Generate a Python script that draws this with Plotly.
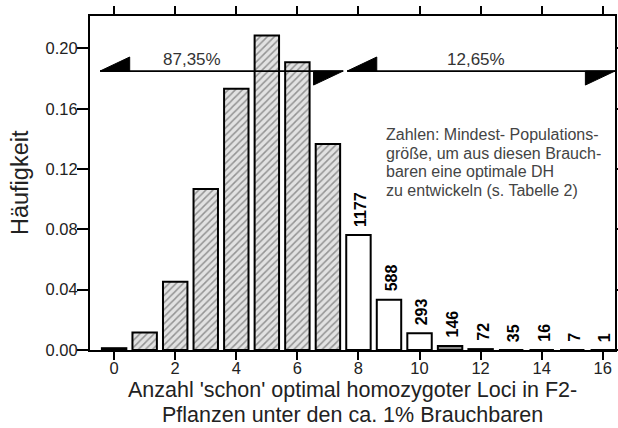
import plotly.graph_objects as go

# Frequency of F2 plants by number of loci already optimally homozygous
loci = list(range(17))
haeufigkeit = [0.0012, 0.0116, 0.0452, 0.1068, 0.1733, 0.2086, 0.1908, 0.1366,
               0.0762, 0.0333, 0.0111, 0.0027, 0.0006, 0.0, 0.0, 0.0, 0.0]

# Minimum population sizes for the classes 8..16
pop_loci = [8, 9, 10, 11, 12, 13, 14, 15, 16]
pop_sizes = [1177, 588, 293, 146, 72, 35, 16, 7, 1]

# Share of the two groups and the span of their arrows (in loci units)
share_labels = ["87,35%", "12,65%"]
share_spans = [(-0.46, 7.5), (7.63, 16.4)]

x_ticks = [0, 2, 4, 6, 8, 10, 12, 14, 16]
y_ticks = [0.00, 0.04, 0.08, 0.12, 0.16, 0.20]

x_title_lines = ["Anzahl 'schon' optimal homozygoter Loci in F2-",
                 "Pflanzen unter den ca. 1% Brauchbaren"]
y_title = "Häufigkeit"

note_lines = ["Zahlen: Mindest- Populations-",
              "größe, um aus diesen Brauch-",
              "baren eine optimale DH",
              "zu entwickeln (s. Tabelle 2)"]

FONT = "Arial, Liberation Sans, sans-serif"
X_RANGE = [-0.79, 16.4]
Y_RANGE = [0, 0.2215]
ARROW_Y = 0.185
HEAD_LEN = 0.97
HEAD_H = 0.0093


def bar_style(k):
    if 1 <= k <= 7:
        return "#e2e2e2", "/"
    if 8 <= k <= 10:
        return "white", ""
    if k == 11:
        return "#8a8a8a", ""
    return "black", ""


colors = [bar_style(k)[0] for k in loci]
patterns = [bar_style(k)[1] for k in loci]

fig = go.Figure()
fig.add_trace(go.Bar(
    x=loci, y=haeufigkeit, width=0.8,
    marker=dict(color=colors,
                line=dict(color="black", width=2),
                pattern=dict(shape=patterns, fgcolor="#8e8e8e", size=5,
                             solidity=0.3, fillmode="overlay")),
    hoverinfo="x+y", showlegend=False,
))

annotations = []
# population size labels above the bars
for k, n in zip(pop_loci, pop_sizes):
    annotations.append(dict(
        x=k, y=haeufigkeit[k], xref="x", yref="y", text=str(n),
        textangle=-90, showarrow=False, xanchor="center", yanchor="bottom",
        yshift=6, xshift=2,
        font=dict(family=FONT, size=16, color="black", weight="bold")))

# arrows marking both groups
shapes = []
share_label_x = [2.55, 11.85]
for (x0, x1), lab, lx in zip(share_spans, share_labels, share_label_x):
    shapes.append(dict(type="line", xref="x", yref="y", x0=x0, x1=x1,
                       y0=ARROW_Y, y1=ARROW_Y,
                       line=dict(color="black", width=1.8), layer="above"))
    # half arrowhead at the left end (above the line)
    shapes.append(dict(type="path", xref="x", yref="y", layer="above",
                       path=f"M {x0} {ARROW_Y} L {x0 + HEAD_LEN} {ARROW_Y + HEAD_H} "
                            f"L {x0 + HEAD_LEN} {ARROW_Y} Z",
                       fillcolor="black", line=dict(color="black", width=1)))
    # half arrowhead at the right end (below the line)
    shapes.append(dict(type="path", xref="x", yref="y", layer="above",
                       path=f"M {x1} {ARROW_Y} L {x1 - HEAD_LEN} {ARROW_Y - HEAD_H} "
                            f"L {x1 - HEAD_LEN} {ARROW_Y} Z",
                       fillcolor="black", line=dict(color="black", width=1)))
    annotations.append(dict(
        x=lx, y=ARROW_Y, xref="x", yref="y", text=lab, showarrow=False,
        xanchor="center", yanchor="bottom", yshift=0,
        font=dict(family=FONT, size=17, color="#333333")))

# explanatory note, one annotation per line for tight line spacing
note_top, note_step = 0.1429, 0.01228
for i, line in enumerate(note_lines):
    annotations.append(dict(
        x=8.87, y=note_top - i * note_step, xref="x", yref="y", text=line,
        showarrow=False, xanchor="left", yanchor="middle", borderpad=0,
        font=dict(family=FONT, size=16, color="#444444")))

# axis titles (x title as two tightly spaced lines)
for ty, line in zip([-0.1596, -0.2335], x_title_lines):
    annotations.append(dict(
        x=0.5, y=ty, xref="paper", yref="paper", text=line,
        showarrow=False, xanchor="center", yanchor="bottom", borderpad=0,
        font=dict(family=FONT, size=21.5, color="#222222")))
annotations.append(dict(
    x=-0.1333, y=0.5, xref="paper", yref="paper", text=y_title,
    textangle=-90, showarrow=False, xanchor="center", yanchor="middle",
    font=dict(family=FONT, size=23.5, color="#222222")))

fig.update_layout(
    width=618, height=428,
    margin=dict(l=90, r=3, t=16, b=78),
    paper_bgcolor="white", plot_bgcolor="white",
    font=dict(family=FONT, color="black"),
    shapes=shapes, annotations=annotations,
    bargap=0.2,
)

fig.update_xaxes(
    range=X_RANGE, tickvals=x_ticks, ticktext=[str(v) for v in x_ticks],
    showline=True, linecolor="black", linewidth=2, mirror="ticks",
    ticks="outside", ticklen=8, tickwidth=2, tickcolor="black",
    showgrid=False, zeroline=False, ticklabelstandoff=-6, automargin=False,
    tickfont=dict(size=16.5, family=FONT, color="#222222"),
)
fig.update_yaxes(
    range=Y_RANGE, tickvals=y_ticks, tickformat=".2f",
    showline=True, linecolor="black", linewidth=2, mirror="ticks",
    ticks="outside", ticklen=11, tickwidth=2, tickcolor="black",
    showgrid=False, zeroline=False, ticklabelstandoff=-4, automargin=False,
    tickfont=dict(size=16.5, family=FONT, color="#222222"),
)

fig.write_html("out.html")
